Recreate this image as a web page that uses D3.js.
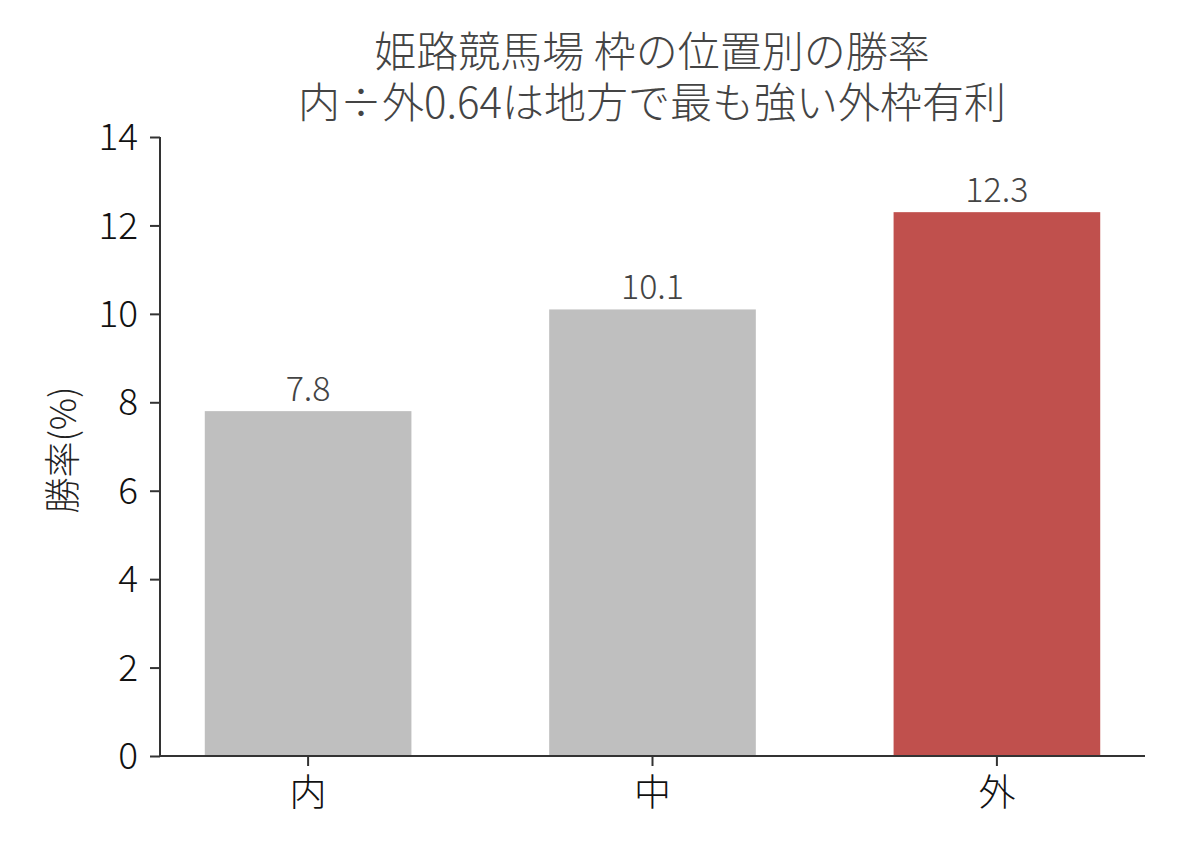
<!DOCTYPE html>
<html><head><meta charset="utf-8">
<script src="https://cdn.jsdelivr.net/npm/d3@7"></script>
<style>body{margin:0;background:#fff}svg{display:block}text{font-family:"Noto Sans CJK JP","Noto Sans",sans-serif;}</style>
</head><body>
<script>
const categories = ["内", "中", "外"];
const values = [7.8, 10.1, 12.3];
const barColors = ["#bfbfbf", "#bfbfbf", "#c0504d"];
const yTicks = [0, 2, 4, 6, 8, 10, 12, 14];
const titleLines = ["姫路競馬場 枠の位置別の勝率", "内÷外0.64は地方で最も強い外枠有利"];
const yLabel = "勝率(%)";

const W = 1188, H = 858;
const m = {left: 160, right: 1145, top: 137, bottom: 756};
const svg = d3.select("body").append("svg").attr("width", W).attr("height", H);

const x = d3.scaleBand().domain(categories).range([m.left, m.right]).paddingInner(0.4).paddingOuter(0.13);
const y = d3.scaleLinear().domain([0, 14]).range([m.bottom, m.top]);

svg.selectAll("rect.bar").data(values).join("rect")
  .attr("x", (d, i) => x(categories[i]))
  .attr("width", x.bandwidth())
  .attr("y", d => y(d))
  .attr("height", d => y(0) - y(d))
  .attr("fill", (d, i) => barColors[i]);

svg.selectAll("text.vl").data(values).join("text")
  .attr("x", (d, i) => x(categories[i]) + x.bandwidth() / 2)
  .attr("y", d => y(d) - 10)
  .attr("text-anchor", "middle")
  .attr("font-size", 34).attr("font-weight", 300)
  .attr("fill", "#444")
  .text(d => d.toFixed(1));

const yAxis = svg.append("g").attr("transform", `translate(${m.left},0)`)
  .call(d3.axisLeft(y).tickValues(yTicks).tickSize(10).tickPadding(12).tickFormat(d3.format("d")));
const xAxis = svg.append("g").attr("transform", `translate(0,${m.bottom})`)
  .call(d3.axisBottom(x).tickSize(10).tickPadding(10));
[yAxis, xAxis].forEach(g => {
  g.select(".domain").attr("stroke", "#333").attr("stroke-width", 2);
  g.selectAll(".tick line").attr("stroke", "#333").attr("stroke-width", 2);
  g.selectAll(".tick text").attr("font-size", 37).attr("font-weight", 300).attr("fill", "#111")
    .style("font-family", '"Noto Sans CJK JP","Noto Sans",sans-serif');
});
yAxis.select(".domain").attr("d", `M0,${m.bottom}V${m.top}`);
xAxis.select(".domain").attr("d", `M${m.left},0H${m.right}`);
yAxis.selectAll(".tick text").attr("dy", "0.34em");
xAxis.selectAll(".tick text").attr("dy", "0.8em");

svg.append("text")
  .attr("transform", `translate(76,450) rotate(-90)`)
  .attr("text-anchor", "middle")
  .attr("font-size", 36).attr("font-weight", 300).attr("fill", "#222")
  .text(yLabel);

const title = svg.append("text")
  .attr("text-anchor", "middle")
  .attr("font-size", 42).attr("font-weight", 300).attr("fill", "#444");
title.selectAll("tspan").data(titleLines).join("tspan")
  .attr("x", 652).attr("y", (d, i) => 67 + i * 51)
  .text(d => d);
</script>
</body></html>
